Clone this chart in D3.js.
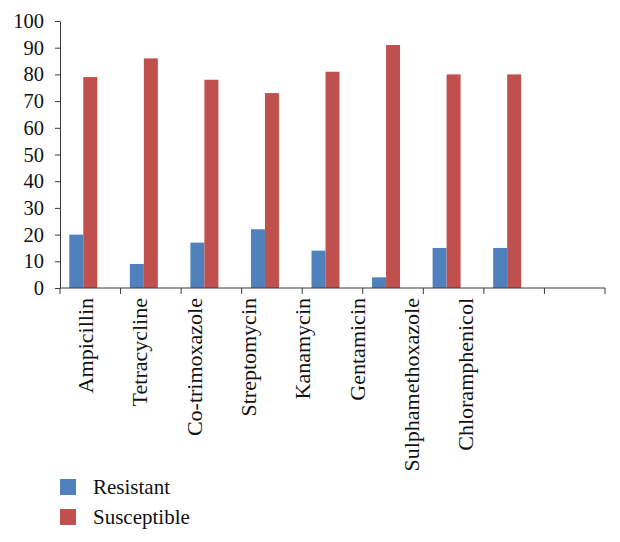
<!DOCTYPE html>
<html>
<head>
<meta charset="utf-8">
<script src="https://cdn.jsdelivr.net/npm/d3@7"></script>
<style>
  html, body { margin: 0; padding: 0; background: #fff; }
  svg text { font-family: 'Liberation Serif', 'DejaVu Serif', serif; fill: #111; }
</style>
</head>
<body>
<svg id="chart" width="620" height="542"></svg>
<script>
// ---- data ----
const categories = ["Ampicillin", "Tetracycline", "Co-trimoxazole", "Streptomycin",
                    "Kanamycin", "Gentamicin", "Sulphamethoxazole", "Chloramphenicol"];
const resistant   = [20, 9, 17, 22, 14, 4, 15, 15];
const susceptible = [79, 86, 78, 73, 81, 91, 80, 80];
const seriesNames = ["Resistant", "Susceptible"];
const seriesColors = ["#4F81BD", "#C0504D"];
const yTicks = [0, 10, 20, 30, 40, 50, 60, 70, 80, 90, 100];

// ---- layout ----
const svg = d3.select("#chart");
const mLeft = 60, mRight = 605, mTop = 21, mBottom = 288;
const FONT = "'Liberation Serif', 'DejaVu Serif', serif";

const slots = categories.concat([""]);
const x = d3.scaleBand().domain(slots).range([mLeft, mRight]).paddingInner(0).paddingOuter(0);
const x1 = d3.scaleBand().domain(seriesNames.concat(["_empty"]))
  .range([0, x.bandwidth()]).paddingInner(0).paddingOuter(0.663);
const y = d3.scaleLinear().domain([0, 100]).range([mBottom, mTop]);
const xl = d3.scalePoint().domain(categories).range([84.7, 465]);

const axisColor = "#3a3a3a";

const seriesData = [resistant, susceptible];
seriesNames.forEach((s, si) => {
  svg.append("g").selectAll("rect")
    .data(categories.map((c, i) => ({ c, v: seriesData[si][i] })))
    .join("rect")
    .attr("x", d => x(d.c) + x1(s))
    .attr("width", x1.bandwidth())
    .attr("y", d => y(d.v))
    .attr("height", d => y(0) - y(d.v))
    .attr("fill", seriesColors[si]);
});

const yAxis = svg.append("g")
  .attr("transform", `translate(${mLeft},0)`)
  .call(d3.axisLeft(y).tickValues(yTicks).tickSize(5).tickSizeOuter(0).tickPadding(11))
  .attr("font-family", null);
yAxis.select(".domain").attr("stroke", axisColor);
yAxis.selectAll(".tick line").attr("stroke", axisColor);
yAxis.selectAll(".tick text").style("font-size", "20.5px").style("font-family", FONT).attr("fill", "#111");

const xAxis = svg.append("g").attr("transform", `translate(0,${mBottom})`);
xAxis.append("line").attr("x1", mLeft).attr("x2", mRight).attr("stroke", axisColor);
const bounds = slots.map(d => x(d)).concat([x.range()[1]]);
xAxis.selectAll("line.tk").data(bounds).join("line").attr("class", "tk")
  .attr("x1", d => d).attr("x2", d => d).attr("y1", 0).attr("y2", 6).attr("stroke", axisColor);

const lab = svg.append("g")
  .attr("transform", `translate(0,${mBottom})`)
  .call(d3.axisBottom(xl).tickSize(0).tickPadding(0))
  .attr("font-family", null);
lab.select(".domain").remove();
lab.selectAll(".tick text")
  .style("font-size", "22px").style("font-family", FONT).attr("fill", "#111")
  .attr("text-anchor", "end")
  .attr("transform", "rotate(-90)")
  .attr("x", -10).attr("y", 0).attr("dy", "0.35em");

const legend = svg.append("g");
seriesNames.forEach((s, i) => {
  const g = legend.append("g").attr("transform", `translate(60,${479 + i * 30})`);
  g.append("rect").attr("width", 16).attr("height", 16).attr("fill", seriesColors[i]);
  g.append("text").attr("x", 33).attr("y", 8).attr("dy", "0.35em")
    .style("font-size", "21px").style("font-family", FONT).text(s);
});
</script>
</body>
</html>
